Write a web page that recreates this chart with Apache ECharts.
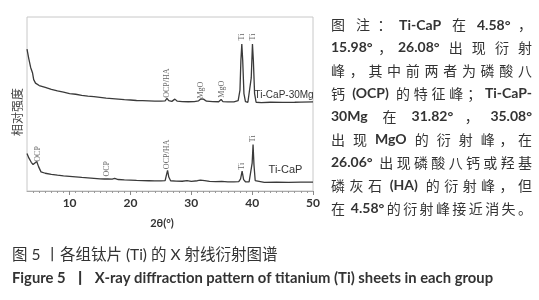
<!DOCTYPE html>
<html>
<head>
<meta charset="utf-8">
<script src="https://cdn.jsdelivr.net/npm/echarts@6/dist/echarts.min.js"></script>
<style>
  html, body { margin: 0; padding: 0; background: #fff; }
  #chart { width: 539px; height: 300px; }
</style>
</head>
<body>
<div id="chart"></div>
<script>
// 2θ (°) / 相对强度 — Ti-CaP-30Mg（上）
const thetaMg = [3.0, 3.3, 3.6, 3.9, 4.1, 4.4, 5.0, 6.0, 7.0, 8.0, 9.0, 10, 11, 12, 13, 14, 15, 16, 17, 18, 19, 20,
  21, 22, 23, 24, 25, 25.7, 26.0, 26.3, 26.8, 27.3, 27.7, 28.5, 29.5, 30.5, 31.2, 31.6, 32.0, 32.5, 33.5, 34.5,
  34.9, 35.2, 36.0, 37.0, 37.7, 38.0, 38.15, 38.3, 38.45, 38.65, 38.9, 39.3, 39.6, 39.85, 40.05, 40.2, 40.4,
  40.65, 41.5, 43, 45, 47, 48, 50];
const intensityMg = [81.6, 76, 71, 68, 64, 62, 60.6, 59.5, 58.4, 57.5, 56.8, 56.0, 55.6, 55.0, 54.5, 54.2, 53.8,
  53.4, 53.1, 52.8, 52.5, 52.3, 52.0, 51.9, 51.8, 51.7, 51.6, 51.8, 53.2, 51.9, 51.5, 52.8, 51.6, 51.4, 51.3, 51.4,
  51.8, 53.0, 52.8, 51.6, 51.4, 51.3, 52.6, 51.4, 51.2, 51.2, 52, 58, 75, 84.5, 75, 56, 51.3, 51.0, 52, 65, 84.5,
  75, 56, 51, 50.8, 51, 50.9, 51.0, 51.1, 51.2];

// Ti-CaP（下）
const thetaCaP = [3.0, 3.3, 3.7, 4.0, 4.3, 4.6, 4.9, 5.3, 6, 7, 8, 9, 10, 11, 12, 13, 14, 15, 15.7, 16.0, 16.3, 17,
  17.4, 18, 19, 20, 21, 22, 23, 24, 25, 25.7, 25.9, 26.1, 26.3, 26.6, 27.5, 28.5, 29.3, 30, 31, 31.5, 32.2, 33,
  34, 35, 36, 37, 37.8, 38.1, 38.35, 38.6, 38.9, 39.5, 39.8, 40.0, 40.15, 40.3, 40.5, 40.8, 42, 44, 46, 48, 50];
const intensityCaP = [21.6, 19, 16.5, 15.2, 15.6, 17.0, 14, 11, 10.2, 9.6, 9.1, 8.7, 8.4, 8.1, 7.8, 7.6, 7.3, 7.0,
  6.9, 7.6, 6.9, 6.8, 7.2, 6.6, 6.4, 6.3, 6.1, 6.0, 5.9, 5.8, 5.8, 6.0, 9, 11.9, 8, 5.9, 5.7, 5.6, 6.0, 5.5, 5.9,
  6.3, 6.0, 5.5, 5.4, 5.5, 5.3, 5.3, 5.4, 7, 11.4, 6.5, 5.3, 5.2, 6, 16, 26.7, 15, 6, 5.2, 5.0, 5.1, 5.0, 5.1, 5.1];

// 峰标注
const mgPeakNames = ['OCP/HA', 'MgO', 'MgO', 'Ti', 'Ti'];
const mgPeakTheta = [26.0, 31.65, 34.95, 38.3, 40.05];
const mgPeakLabelY = [62, 58, 58.5, 88.5, 88.5];
const capPeakNames = ['OCP', 'OCP', 'OCP/HA', 'Ti', 'Ti'];
const capPeakTheta = [4.8, 16.1, 26.05, 38.3, 40.1];
const capPeakLabelY = [21.3, 12.8, 21, 14.2, 30];

const xTickLabels = [10, 20, 30, 40, 50];

const noteLines = [
  '图　注：Ti-CaP 在 4.58°，',
  '15.98°，26.08° 出 现 衍 射',
  '峰，其中前两者为磷酸八',
  '钙 (OCP) 的特征峰；Ti-CaP-',
  '30Mg 在 31.82°，35.08°',
  '出 现 MgO 的 衍 射 峰，在',
  '26.06° 出现磷酸八钙或羟基',
  '磷灰石 (HA) 的衍射峰，但',
  '在 4.58°的衍射峰接近消失。'
];
const captionCn = '图 5 丨各组钛片 (Ti) 的 X 射线衍射图谱';
const captionEn = 'Figure 5  丨  X-ray diffraction pattern of titanium (Ti) sheets in each group';

const chart = echarts.init(document.getElementById('chart'));

const minorTicks = [];
for (let v = 4; v < 50; v++) {
  if (v % 10 !== 0) minorTicks.push(v);
}

function peakMarks(names, theta, ys) {
  return names.map((n, i) => ({ name: n, coord: [theta[i], ys[i]] }));
}

// 右侧图注：按行两端对齐
const latinFont = 'bold 14px Lato';
const cjkFont = '14px "Noto Sans CJK SC"';
const measureCtx = document.createElement('canvas').getContext('2d');
function measure(text, font) {
  measureCtx.font = font;
  return measureCtx.measureText(text).width;
}

const noteLeft = 331;
const noteRight = 532;
const noteTop = 25;
const noteStep = 22.9;
const noteElements = [];

noteLines.forEach((line, li) => {
  const parts = line.match(/[A-Za-z0-9.°()\-]+|\s+|[^\sA-Za-z0-9.°()\-]/g);
  const tokens = [];
  let space = false;
  parts.forEach(p => {
    if (/^\s+$/.test(p)) { space = true; return; }
    const latin = /^[A-Za-z0-9.°()\-]+$/.test(p);
    const font = latin ? latinFont : cjkFont;
    tokens.push({ text: p, font, w: measure(p, font), spaceBefore: space && tokens.length > 0 });
    space = false;
  });
  const spaceW = measure(' ', latinFont);
  let total = 0;
  tokens.forEach(t => { total += t.w + (t.spaceBefore ? spaceW : 0); });
  const extra = tokens.length > 1 ? (noteRight - noteLeft - total) / (tokens.length - 1) : 0;
  let x = noteLeft;
  tokens.forEach((t, i) => {
    if (i > 0) x += extra + (t.spaceBefore ? spaceW : 0);
    noteElements.push({
      type: 'text',
      x: x,
      y: noteTop + li * noteStep,
      silent: true,
      style: { text: t.text, font: t.font, fill: '#333', textAlign: 'left', textVerticalAlign: 'middle' }
    });
    x += t.w;
  });
});

const peakLabel = {
  show: true,
  rotate: 90,
  position: 'inside',
  formatter: '{b}',
  fontSize: 8,
  fontFamily: 'Liberation Serif',
  color: '#666'
};

chart.setOption({
  animation: false,
  grid: {
    left: 27, right: 226, top: 17, bottom: 109,
    show: true, borderColor: '#c8c8c8', borderWidth: 1
  },
  xAxis: [{
    type: 'value',
    min: 3,
    max: 50,
    axisLine: { show: true, lineStyle: { color: '#aaa', width: 1 } },
    axisTick: { show: true, customValues: xTickLabels, length: 4, lineStyle: { color: '#888' } },
    axisLabel: {
      customValues: xTickLabels, margin: 6,
      fontFamily: 'Lato', fontWeight: 'bold', fontSize: 12, color: '#333'
    },
    splitLine: { show: false }
  }, {
    type: 'value',
    min: 3,
    max: 50,
    position: 'bottom',
    axisLine: { show: false },
    axisTick: { show: true, customValues: minorTicks, length: 2, lineStyle: { color: '#999' } },
    axisLabel: { show: false },
    splitLine: { show: false }
  }],
  yAxis: {
    type: 'value',
    min: 0,
    max: 100,
    axisLine: { show: false },
    axisTick: { show: false },
    axisLabel: { show: false },
    splitLine: { show: false }
  },
  series: [{
    name: 'Ti-CaP-30Mg',
    type: 'line',
    xAxisIndex: 0,
    data: thetaMg.map((t, i) => [t, intensityMg[i]]),
    showSymbol: false,
    lineStyle: { color: '#3a3a3a', width: 1.3 },
    markPoint: {
      symbol: 'circle', symbolSize: 0, silent: true,
      label: peakLabel,
      data: peakMarks(mgPeakNames, mgPeakTheta, mgPeakLabelY).concat([{
        name: 'Ti-CaP-30Mg', coord: [40.4, 55],
        label: { rotate: 0, position: 'right', distance: 0, fontSize: 10, fontFamily: 'Liberation Sans', color: '#333' }
      }])
    }
  }, {
    name: 'Ti-CaP',
    type: 'line',
    xAxisIndex: 0,
    data: thetaCaP.map((t, i) => [t, intensityCaP[i]]),
    showSymbol: false,
    lineStyle: { color: '#3a3a3a', width: 1.3 },
    markPoint: {
      symbol: 'circle', symbolSize: 0, silent: true,
      label: peakLabel,
      data: peakMarks(capPeakNames, capPeakTheta, capPeakLabelY).concat([{
        name: 'Ti-CaP', coord: [42.7, 12],
        label: { rotate: 0, position: 'right', distance: 0, fontSize: 11, fontFamily: 'Liberation Sans', color: '#333' }
      }])
    }
  }],
  graphic: [{
    type: 'text', x: 17, y: 112, rotation: Math.PI / 2, silent: true,
    style: { text: '相对强度', font: '12px "Noto Sans CJK SC"', fill: '#444', textAlign: 'center', textVerticalAlign: 'middle' }
  }, {
    type: 'text', x: 162, y: 223, silent: true,
    style: { text: '2θ(°)', font: 'bold 11px Lato', fill: '#333', textAlign: 'center', textVerticalAlign: 'middle' }
  }, {
    type: 'text', x: 12, y: 255, silent: true,
    style: { text: captionCn, font: '15.5px Lato, "Noto Sans CJK SC"', fill: '#333', textAlign: 'left', textVerticalAlign: 'middle' }
  }, {
    type: 'text', x: 12, y: 278, silent: true,
    style: { text: captionEn, font: 'bold 14.8px Lato, "Noto Sans CJK SC"', fill: '#333', textAlign: 'left', textVerticalAlign: 'middle' }
  }].concat(noteElements)
});
</script>
</body>
</html>
